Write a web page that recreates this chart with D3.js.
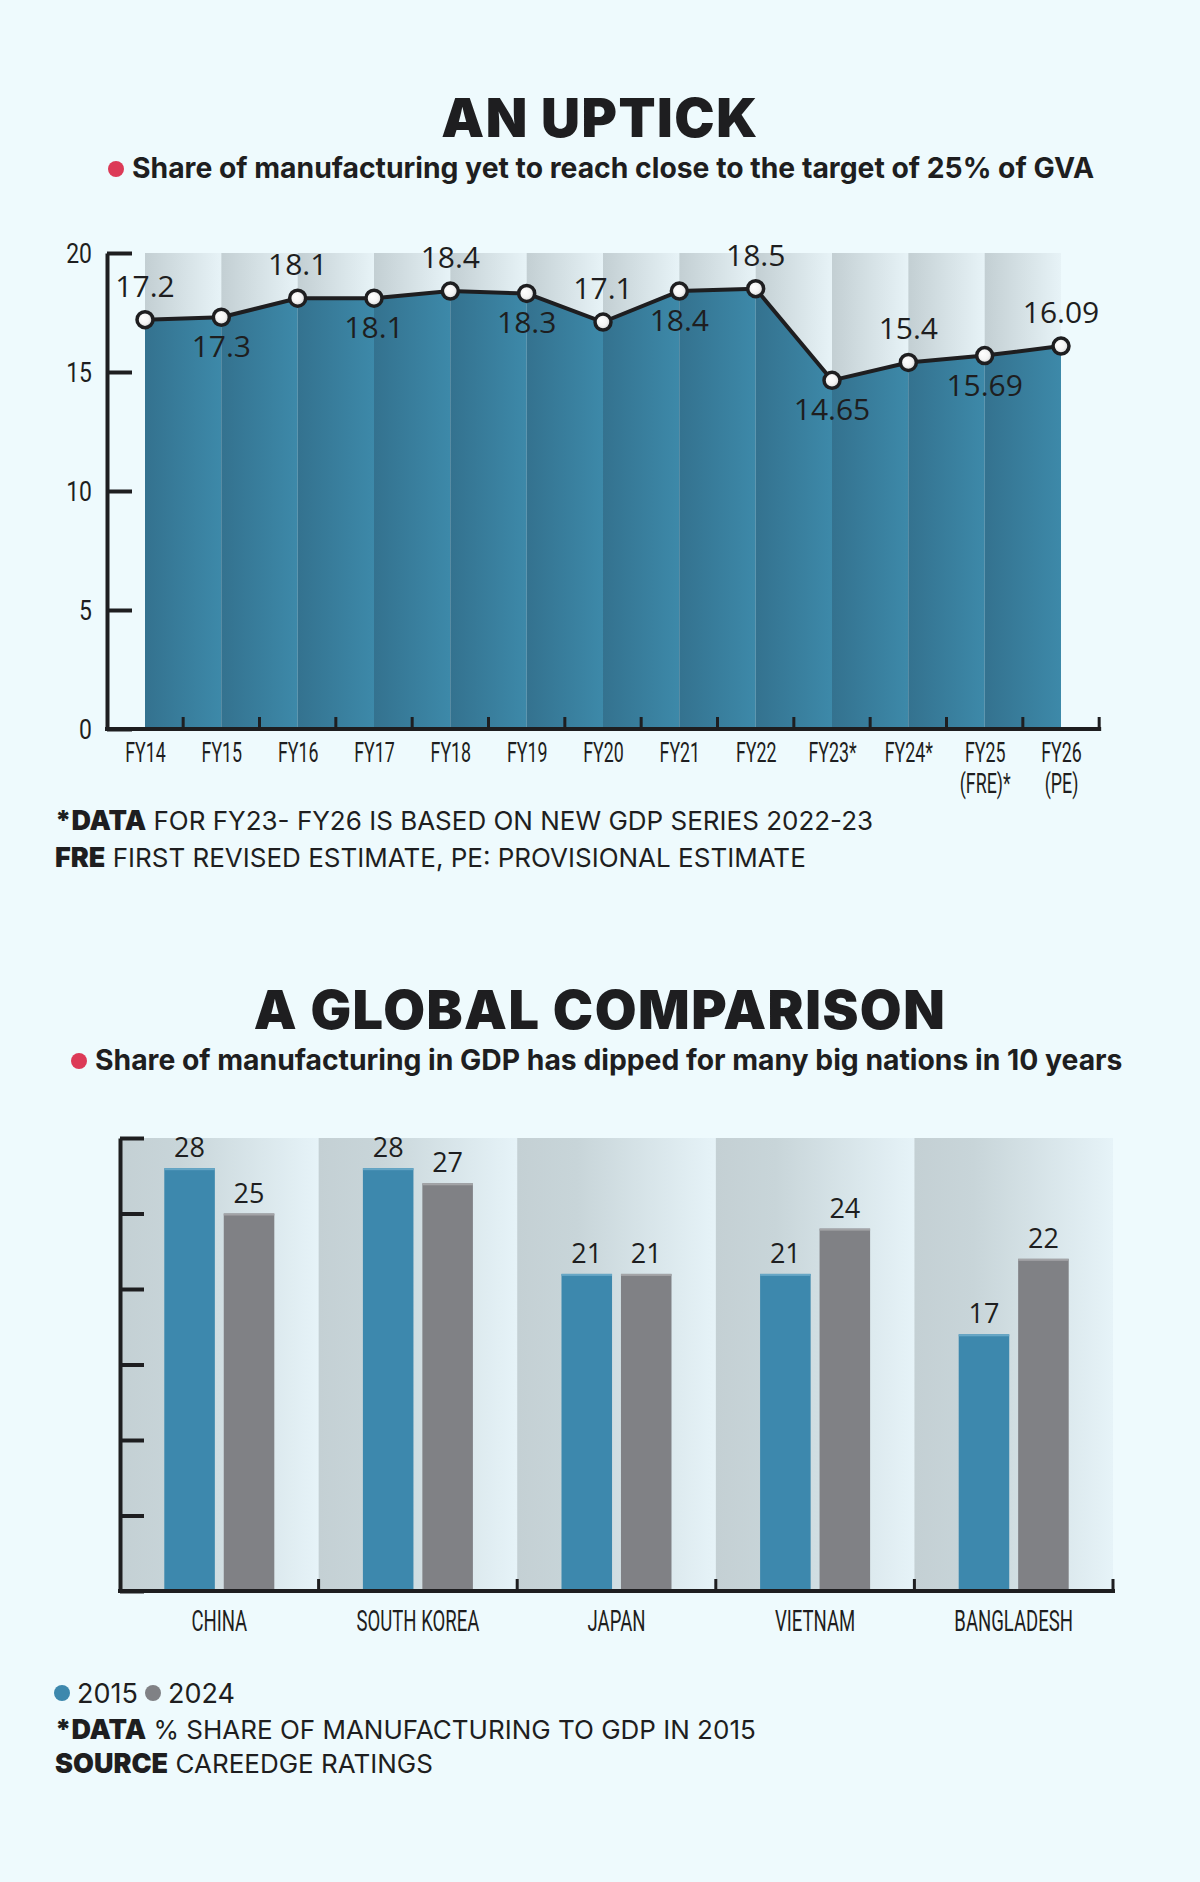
<!DOCTYPE html>
<html>
<head>
<meta charset="utf-8">
<script src="https://cdn.jsdelivr.net/npm/d3@7"></script>
<style>
  body { margin: 0; background: #eefafd; }
  svg { display: block; }
</style>
</head>
<body>
<div id="chart"></div>
<script>
const width = 1200;
const height = 1882;

// chart 1 data
const fyYears = ["FY14", "FY15", "FY16", "FY17", "FY18", "FY19", "FY20", "FY21", "FY22", "FY23*", "FY24*", "FY25", "FY26"];
const fyTickLines = [["FY14"], ["FY15"], ["FY16"], ["FY17"], ["FY18"], ["FY19"], ["FY20"], ["FY21"], ["FY22"], ["FY23*"], ["FY24*"], ["FY25", "(FRE)*"], ["FY26", "(PE)"]];
const gvaShare = [17.2, 17.3, 18.1, 18.1, 18.4, 18.3, 17.1, 18.4, 18.5, 14.65, 15.4, 15.69, 16.09];
const gvaLabels = ["17.2", "17.3", "18.1", "18.1", "18.4", "18.3", "17.1", "18.4", "18.5", "14.65", "15.4", "15.69", "16.09"];
const gvaTicks = [0, 5, 10, 15, 20];

// chart 2 data
const countries = ["CHINA", "SOUTH KOREA", "JAPAN", "VIETNAM", "BANGLADESH"];
const years = ["2015", "2024"];
const share2015 = [28, 28, 21, 21, 17];
const share2024 = [25, 27, 21, 24, 22];
const gdpTicks = [0, 5, 10, 15, 20, 25, 30];

const ink = "#1e1e20";
const blue = "#3d88ad";
const grey = "#808185";
const red = "#dc3a57";

const svg = d3.select("#chart")
  .append("svg")
  .attr("width", width)
  .attr("height", height)
  .attr("viewBox", `0 0 ${width} ${height}`);

svg.append("rect").attr("width", width).attr("height", height).attr("fill", "#eefafd");

const defs = svg.append("defs");
function linGrad(id, stops) {
  const g = defs.append("linearGradient").attr("id", id)
    .attr("x1", 0).attr("x2", 1).attr("y1", 0).attr("y2", 0);
  stops.forEach(s => g.append("stop").attr("offset", s[0]).attr("stop-color", s[1]));
}
linGrad("bandGrey", [[0, "#c3cfd3"], [1, "#e7f3f7"]]);
linGrad("bandBlue", [[0, "#34728f"], [1, "#3d89a9"]]);
linGrad("bandGrey2", [[0, "#c4d0d4"], [0.3, "#c8d5d9"], [1, "#e6f3f8"]]);
const rg = defs.append("radialGradient").attr("id", "dot").attr("fx", 0.35).attr("fy", 0.35);
rg.append("stop").attr("offset", 0).attr("stop-color", "#ffffff");
rg.append("stop").attr("offset", 0.6).attr("stop-color", "#f4f4f4");
rg.append("stop").attr("offset", 1).attr("stop-color", "#cfcfcf");

// headings
function heading(text, y) {
  svg.append("text")
    .attr("x", width / 2)
    .attr("y", y)
    .attr("text-anchor", "middle")
    .attr("font-family", "Inter, sans-serif")
    .attr("font-weight", 900)
    .attr("font-size", 54)
    .attr("letter-spacing", 1.5)
    .attr("fill", ink)
    .text(text);
}
function subheading(text, x, y) {
  svg.append("circle").attr("cx", x - 16).attr("cy", y - 9).attr("r", 8).attr("fill", red);
  svg.append("text")
    .attr("x", x)
    .attr("y", y)
    .attr("font-family", "Inter, sans-serif")
    .attr("font-weight", 700)
    .attr("font-size", 28.3)
    .attr("fill", ink)
    .text(text);
}
function note(bold, rest, x, y) {
  const t = svg.append("text")
    .attr("x", x)
    .attr("y", y)
    .attr("font-family", "Inter, sans-serif")
    .attr("fill", ink);
  t.append("tspan").attr("font-weight", 900).attr("font-size", 27).text(bold);
  t.append("tspan").attr("font-weight", 400).attr("font-size", 26).text(" " + rest);
}

heading("AN UPTICK", 137);
subheading("Share of manufacturing yet to reach close to the target of 25% of GVA", 132, 178);

// ---------- chart 1 ----------
const x1 = d3.scalePoint().domain(fyYears).range([145, 1061]);
const y1 = d3.scaleLinear().domain([0, 20]).range([729, 253]);
const step1 = x1.step();
const axisX1 = 107;

const pts = fyYears.map((d, i) => ({ key: d, value: gvaShare[i], label: gvaLabels[i], i }));
const bands1 = pts.slice(0, -1).map((d, i) => ({ x0: x1(d.key), x1: x1(pts[i + 1].key) }));

svg.append("g").selectAll("rect")
  .data(bands1)
  .join("rect")
  .attr("x", d => d.x0)
  .attr("y", y1(20))
  .attr("width", d => d.x1 - d.x0)
  .attr("height", y1(0) - y1(20))
  .attr("fill", "url(#bandGrey)");

const area = d3.area()
  .x(d => x1(d.key))
  .y0(y1(0))
  .y1(d => y1(d.value));

defs.append("clipPath").attr("id", "areaClip")
  .append("path").attr("d", area(pts));

svg.append("g").attr("clip-path", "url(#areaClip)")
  .selectAll("rect")
  .data(bands1)
  .join("rect")
  .attr("x", d => d.x0)
  .attr("y", y1(20))
  .attr("width", d => d.x1 - d.x0)
  .attr("height", y1(0) - y1(20))
  .attr("fill", "url(#bandBlue)");

// y axis
svg.append("g")
  .attr("transform", `translate(${axisX1},0)`)
  .call(d3.axisLeft(y1).tickValues(gvaTicks).tickSize(-25).tickSizeOuter(0).tickPadding(15))
  .call(g => g.selectAll("path, line").attr("stroke", ink).attr("stroke-width", 4))
  .call(g => g.selectAll("text")
    .attr("font-family", "Roboto, sans-serif")
    .attr("font-size", 27)
    .attr("fill", ink)
    .attr("x", -15 / 0.85)
    .attr("dy", "0.36em")
    .attr("transform", "scale(0.85,1)"));

// x axis
svg.append("g")
  .attr("transform", `translate(0,${y1(0)})`)
  .call(d3.axisBottom(x1).tickSize(0).tickPadding(0))
  .call(g => g.select(".domain").remove())
  .call(g => g.selectAll("text")
    .attr("font-family", "Roboto, sans-serif")
    .attr("font-size", 27)
    .attr("fill", ink)
    .attr("y", 33)
    .attr("dy", null)
    .attr("transform", "scale(0.66,1)")
    .text(null)
    .each(function (d, i) {
      const t = d3.select(this);
      fyTickLines[i].forEach((line, j) => {
        t.append("tspan").attr("x", 0).attr("dy", j === 0 ? 0 : 31).text(line);
      });
    }));

const xEnd1 = x1(fyYears[fyYears.length - 1]) + step1 / 2;
svg.append("line")
  .attr("x1", axisX1 - 2).attr("x2", xEnd1 + 2)
  .attr("y1", y1(0)).attr("y2", y1(0))
  .attr("stroke", ink).attr("stroke-width", 4);
svg.append("g").selectAll("line")
  .data(fyYears)
  .join("line")
  .attr("x1", d => x1(d) + step1 / 2)
  .attr("x2", d => x1(d) + step1 / 2)
  .attr("y1", y1(0))
  .attr("y2", y1(0) - 12)
  .attr("stroke", ink)
  .attr("stroke-width", 3);

// line and points
svg.append("path")
  .datum(pts)
  .attr("d", d3.line().x(d => x1(d.key)).y(d => y1(d.value)))
  .attr("fill", "none")
  .attr("stroke", ink)
  .attr("stroke-width", 4)
  .attr("stroke-linejoin", "round");

svg.append("g").selectAll("circle")
  .data(pts)
  .join("circle")
  .attr("cx", d => x1(d.key))
  .attr("cy", d => y1(d.value))
  .attr("r", 8)
  .attr("fill", "url(#dot)")
  .attr("stroke", ink)
  .attr("stroke-width", 3.5);

svg.append("g").selectAll("text")
  .data(pts)
  .join("text")
  .attr("x", d => x1(d.key))
  .attr("y", d => d.i % 2 === 0 ? y1(d.value) - 23 : y1(d.value) + 40)
  .attr("text-anchor", "middle")
  .attr("font-family", "'Open Sans', sans-serif")
  .attr("font-size", 30)
  .attr("fill", ink)
  .text(d => d.label);

note("*DATA", "FOR FY23- FY26 IS BASED ON NEW GDP SERIES 2022-23", 55, 830);
note("FRE", "FIRST REVISED ESTIMATE, PE: PROVISIONAL ESTIMATE", 55, 867);

// ---------- chart 2 ----------
heading("A GLOBAL COMPARISON", 1029);
subheading("Share of manufacturing in GDP has dipped for many big nations in 10 years", 95, 1070);

const x2 = d3.scaleBand().domain(countries).range([120, 1113]);
const bw = x2.bandwidth();
const xs = d3.scaleBand().domain(years).range([bw / 2 - 55, bw / 2 + 55]).paddingInner(0.15);
const y2 = d3.scaleLinear().domain([0, 30]).range([1591, 1138]);

svg.append("g").selectAll("rect")
  .data(countries)
  .join("rect")
  .attr("x", d => x2(d))
  .attr("y", y2(30))
  .attr("width", bw)
  .attr("height", y2(0) - y2(30))
  .attr("fill", "url(#bandGrey2)");

const bars = countries.flatMap((c, i) => [
  { c, year: years[0], value: share2015[i], color: blue, edge: "#67a7c6" },
  { c, year: years[1], value: share2024[i], color: grey, edge: "#a3a4a7" }
]);

const barG = svg.append("g");
barG.selectAll("rect.bar")
  .data(bars)
  .join("rect")
  .attr("class", "bar")
  .attr("x", d => x2(d.c) + xs(d.year))
  .attr("y", d => y2(d.value))
  .attr("width", xs.bandwidth())
  .attr("height", d => y2(0) - y2(d.value))
  .attr("fill", d => d.color);
barG.selectAll("rect.edge")
  .data(bars)
  .join("rect")
  .attr("class", "edge")
  .attr("x", d => x2(d.c) + xs(d.year))
  .attr("y", d => y2(d.value))
  .attr("width", xs.bandwidth())
  .attr("height", 2)
  .attr("fill", d => d.edge);

barG.selectAll("text")
  .data(bars)
  .join("text")
  .attr("x", d => x2(d.c) + xs(d.year) + xs.bandwidth() / 2)
  .attr("y", d => y2(d.value) - 11)
  .attr("text-anchor", "middle")
  .attr("font-family", "'Open Sans', sans-serif")
  .attr("font-size", 27)
  .attr("fill", ink)
  .text(d => d.value);

svg.append("g")
  .attr("transform", "translate(120,0)")
  .call(d3.axisLeft(y2).tickValues(gdpTicks).tickSize(-24).tickSizeOuter(0).tickFormat(""))
  .call(g => g.selectAll("path, line").attr("stroke", ink).attr("stroke-width", 4));

svg.append("g")
  .attr("transform", `translate(0,${y2(0)})`)
  .call(d3.axisBottom(x2).tickSize(0).tickPadding(0))
  .call(g => g.select(".domain").remove())
  .call(g => g.selectAll("text")
    .attr("font-family", "Roboto, sans-serif")
    .attr("font-size", 29)
    .attr("fill", ink)
    .attr("y", 40)
    .attr("dy", null)
    .attr("transform", "scale(0.64,1)"));

svg.append("line")
  .attr("x1", 118).attr("x2", 1115)
  .attr("y1", y2(0)).attr("y2", y2(0))
  .attr("stroke", ink).attr("stroke-width", 4);
svg.append("g").selectAll("line")
  .data(countries)
  .join("line")
  .attr("x1", d => x2(d) + bw)
  .attr("x2", d => x2(d) + bw)
  .attr("y1", y2(0))
  .attr("y2", y2(0) - 12)
  .attr("stroke", ink)
  .attr("stroke-width", 3);

// legend
const legend = svg.append("g");
[[years[0], blue, 62], [years[1], grey, 153]].forEach(([label, color, cx]) => {
  legend.append("circle").attr("cx", cx).attr("cy", 1693).attr("r", 8).attr("fill", color);
  legend.append("text")
    .attr("x", cx + 15)
    .attr("y", 1703)
    .attr("font-family", "Inter, sans-serif")
    .attr("font-size", 27)
    .attr("fill", ink)
    .text(label);
});

note("*DATA", "% SHARE OF MANUFACTURING TO GDP IN 2015", 55, 1739);
note("SOURCE", "CAREEDGE RATINGS", 55, 1773);
</script>
</body>
</html>
